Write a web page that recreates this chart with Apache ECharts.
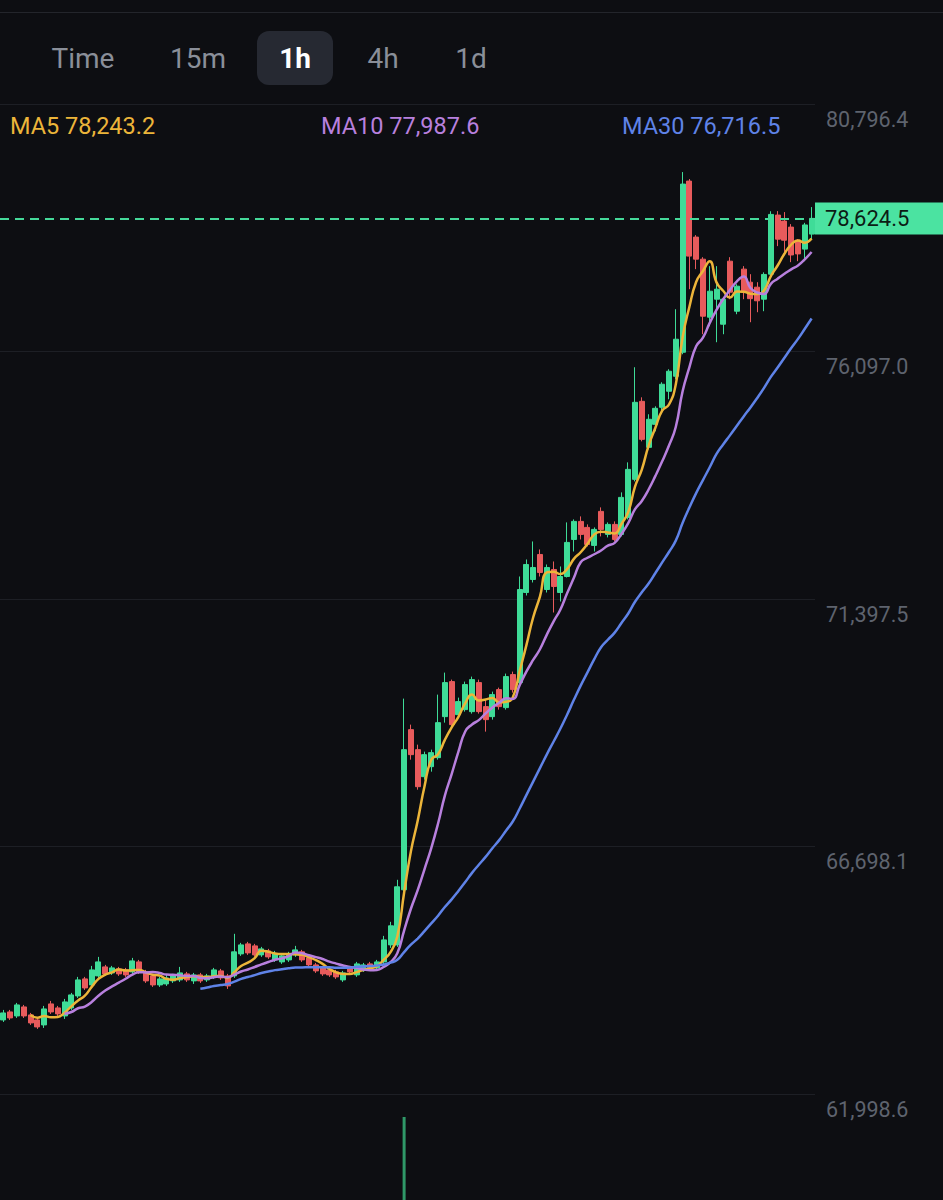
<!DOCTYPE html>
<html><head><meta charset="utf-8">
<script src="https://cdn.jsdelivr.net/npm/echarts@6/dist/echarts.min.js"></script>
<style>html,body{margin:0;padding:0;background:#0d0e12;}#c{width:943px;height:1200px;}</style>
</head><body><div id="c"></div><script>
// Timeframe tabs
const tabs = ['Time', '15m', '1h', '4h', '1d'];
const activeTab = '1h';

// Latest MA readings shown in the legend row
const maLegend = [
  { name: 'MA5', value: '78,243.2' },
  { name: 'MA10', value: '77,987.6' },
  { name: 'MA30', value: '76,716.5' }
];

// Price axis tick values
const yTicks = [61998.6, 66698.1, 71397.5, 76097.0, 80796.4];
const yMin = 61998.6;
const yMax = 80796.4;

// 1h candles: [open, close, low, high]
const candles = [
  [63405, 63538, 63367, 63595],
  [63557, 63443, 63405, 63595],
  [63481, 63690, 63443, 63728],
  [63652, 63481, 63443, 63690],
  [63500, 63348, 63310, 63538],
  [63405, 63272, 63234, 63443],
  [63310, 63614, 63253, 63671],
  [63709, 63557, 63519, 63766],
  [63633, 63519, 63481, 63671],
  [63481, 63747, 63424, 63804],
  [63633, 63880, 63595, 63918],
  [63861, 64165, 63823, 64222],
  [64184, 64013, 63975, 64222],
  [64070, 64355, 64032, 64431],
  [64241, 64507, 64203, 64602],
  [64412, 64279, 64241, 64450],
  [64298, 64393, 64260, 64431],
  [64374, 64279, 64241, 64412],
  [64355, 64260, 64222, 64393],
  [64317, 64526, 64279, 64583],
  [64507, 64317, 64279, 64545],
  [64317, 64146, 64108, 64355],
  [64241, 64070, 64032, 64279],
  [64070, 64184, 64032, 64222],
  [64089, 64203, 64051, 64260],
  [64146, 64241, 64108, 64279],
  [64165, 64298, 64127, 64412],
  [64279, 64165, 64127, 64317],
  [64146, 64260, 64089, 64298],
  [64260, 64146, 64108, 64298],
  [64165, 64241, 64127, 64279],
  [64222, 64355, 64184, 64393],
  [64336, 64203, 64165, 64374],
  [64241, 64051, 63994, 64279],
  [64241, 64698, 64203, 65040],
  [64659, 64830, 64621, 64868],
  [64849, 64678, 64640, 64887],
  [64811, 64640, 64602, 64849],
  [64640, 64754, 64602, 64792],
  [64716, 64602, 64564, 64754],
  [64545, 64659, 64507, 64716],
  [64507, 64621, 64469, 64659],
  [64545, 64640, 64507, 64698],
  [64640, 64735, 64602, 64811],
  [64698, 64545, 64507, 64735],
  [64583, 64450, 64412, 64621],
  [64450, 64336, 64298, 64488],
  [64393, 64279, 64241, 64431],
  [64355, 64260, 64222, 64393],
  [64317, 64222, 64184, 64355],
  [64165, 64298, 64127, 64336],
  [64393, 64317, 64279, 64431],
  [64260, 64469, 64222, 64507],
  [64355, 64450, 64317, 64488],
  [64469, 64393, 64355, 64507],
  [64393, 64507, 64355, 64545],
  [64507, 64925, 64469, 65001],
  [64830, 65192, 64773, 65268],
  [64830, 65933, 64792, 66066],
  [65876, 68537, 65838, 69506],
  [68917, 68442, 68347, 69012],
  [68537, 67834, 67777, 68632],
  [68024, 68442, 67967, 68499],
  [68214, 68480, 68119, 68537],
  [68385, 69050, 68347, 69582],
  [69164, 69810, 69050, 70000],
  [69829, 69012, 68974, 69867],
  [69202, 69449, 69145, 69525],
  [69297, 69772, 69259, 69829],
  [69259, 69867, 69221, 69924],
  [69810, 69259, 69221, 69867],
  [69354, 69107, 68879, 69487],
  [69164, 69582, 69107, 69639],
  [69677, 69354, 69297, 69715],
  [69335, 69924, 69297, 69981],
  [69962, 69677, 69620, 70019],
  [69810, 71578, 69772, 71825],
  [71521, 72053, 71464, 72148],
  [71768, 71996, 71711, 72490],
  [72243, 71901, 71825, 72338],
  [71578, 71996, 71521, 72053],
  [71958, 71635, 71141, 72110],
  [71521, 71825, 71350, 72015],
  [71825, 72472, 71806, 72852],
  [72528, 72871, 72300, 72909],
  [72871, 72624, 72528, 72966],
  [72757, 72434, 72396, 72814],
  [72415, 72719, 72300, 72757],
  [73061, 72719, 72586, 73137],
  [72624, 72814, 72567, 72852],
  [72814, 72528, 72491, 72871],
  [72624, 73327, 72586, 73422],
  [72947, 73859, 72909, 73992],
  [73669, 75132, 73631, 75798],
  [75151, 74429, 74391, 75227],
  [74277, 74810, 74239, 74905],
  [74714, 75018, 74581, 75056],
  [75037, 75475, 74942, 75513],
  [75342, 75722, 75190, 75760],
  [75627, 76330, 75570, 76900],
  [76083, 79276, 76045, 79504],
  [79333, 77908, 77280, 79371],
  [78269, 77850, 77661, 78307],
  [77850, 76767, 76425, 77888],
  [76748, 77242, 76577, 77718],
  [77090, 77280, 76273, 77718],
  [76615, 77090, 76425, 77128],
  [77812, 77223, 77090, 77888],
  [76862, 77337, 76805, 77375],
  [77661, 77223, 77090, 77718],
  [77413, 77100, 76653, 77565],
  [77318, 77060, 76843, 77413],
  [77090, 77560, 76862, 77600],
  [77565, 78700, 77508, 78760],
  [78687, 78230, 78098, 78763],
  [78573, 78210, 77945, 78744],
  [78459, 77930, 77793, 78516],
  [78212, 77950, 77812, 78231],
  [78041, 78500, 77812, 78540],
  [78326, 78624.5, 78231, 78839]
];
const lastPrice = 78624.5;

// Volume pane: only the spike bar reaches into view
const volumes = candles.map(() => null);
volumes[59] = 100;

const categories = candles.map((_, i) => String(i + 1));

function movingAverage(period) {
  return candles.map((_, i) => {
    if (i < period - 1) return '-';
    let s = 0;
    for (let j = i - period + 1; j <= i; j++) s += candles[j][1];
    return +(s / period).toFixed(1);
  });
}

const UP = '#3fdc98', DOWN = '#e85b5c';
const MA_COLORS = ['#ecb53a', '#b880de', '#5f83e8'];
const fmt = v => Number(v).toLocaleString('en-US', { minimumFractionDigits: 1, maximumFractionDigits: 1 });

const chart = echarts.init(document.getElementById('c'), null, { renderer: 'svg', width: 943, height: 1200 });

const tabX = [83, 198, 295, 383, 471];
const graphics = [
  { type: 'rect', shape: { x: 0, y: 12, width: 943, height: 1 }, style: { fill: '#23252b' } },
  { type: 'rect', shape: { x: 257, y: 31, width: 76, height: 54, r: 12 }, style: { fill: '#262932' } }
];
tabs.forEach((t, i) => {
  graphics.push({
    type: 'text', x: tabX[i], y: 58,
    style: {
      text: t, align: 'center', verticalAlign: 'middle',
      fontFamily: 'Roboto', fontSize: 28,
      fontWeight: t === activeTab ? 'bold' : 'normal',
      fill: t === activeTab ? '#ffffff' : '#8a8f99'
    }
  });
});
const legendX = [10, 321, 622];
maLegend.forEach((m, i) => {
  graphics.push({
    type: 'text', x: legendX[i], y: 126,
    style: { text: m.name + ' ' + m.value, verticalAlign: 'middle', fontFamily: 'Roboto', fontSize: 23.5, fill: MA_COLORS[i] }
  });
});

const option = {
  backgroundColor: '#0d0e12',
  animation: false,
  graphic: graphics,
  grid: [
    { left: 0, right: 128, top: 104, height: 990 },
    { left: 0, right: 128, top: 1117, height: 600 }
  ],
  xAxis: [
    { type: 'category', data: categories, gridIndex: 0, boundaryGap: true,
      axisLine: { show: false }, axisTick: { show: false }, axisLabel: { show: false }, splitLine: { show: false } },
    { type: 'category', data: categories, gridIndex: 1, boundaryGap: true,
      axisLine: { show: false }, axisTick: { show: false }, axisLabel: { show: false }, splitLine: { show: false } }
  ],
  yAxis: [
    { type: 'value', gridIndex: 0, position: 'right', min: yMin, max: yMax, scale: true,
      axisLine: { show: false },
      axisTick: { show: false, customValues: yTicks },
      axisLabel: { customValues: yTicks, inside: false, margin: 11, align: 'left', verticalAlign: 'top',
        padding: [4, 0, 0, 0], color: '#5e636e', fontFamily: 'Roboto', fontSize: 21.5, formatter: v => fmt(v) },
      splitLine: { show: true, lineStyle: { color: '#1d1f25', width: 1 } } },
    { type: 'value', gridIndex: 1, min: 0, max: 100, show: false, splitLine: { show: false } }
  ],
  series: [
    {
      type: 'candlestick', name: '1h', data: candles, xAxisIndex: 0, yAxisIndex: 0,
      barWidth: 5.5,
      itemStyle: { color: UP, color0: DOWN, borderColor: UP, borderColor0: DOWN, borderWidth: 1 },
      markLine: {
        silent: true, symbol: ['none', 'none'],
        lineStyle: { color: '#45d99a', type: [9, 6], width: 1.8 },
        label: {
          position: 'end', distance: 0, formatter: () => fmt(lastPrice),
          backgroundColor: '#4be3a1', color: '#0c1c15', fontFamily: 'Roboto', fontSize: 22,
          padding: [5, 10, 5, 10], width: 108, align: 'left'
        },
        data: [{ yAxis: lastPrice }]
      }
    },
    { type: 'line', name: 'MA5', data: movingAverage(5), smooth: true, showSymbol: false, symbol: 'none',
      lineStyle: { color: MA_COLORS[0], width: 2.5 }, xAxisIndex: 0, yAxisIndex: 0 },
    { type: 'line', name: 'MA10', data: movingAverage(10), smooth: true, showSymbol: false, symbol: 'none',
      lineStyle: { color: MA_COLORS[1], width: 2.5 }, xAxisIndex: 0, yAxisIndex: 0 },
    { type: 'line', name: 'MA30', data: movingAverage(30), smooth: true, showSymbol: false, symbol: 'none',
      lineStyle: { color: MA_COLORS[2], width: 2.5 }, xAxisIndex: 0, yAxisIndex: 0 },
    { type: 'bar', name: 'Vol', data: volumes, xAxisIndex: 1, yAxisIndex: 1, barWidth: 3,
      itemStyle: { color: '#2f9868' } }
  ]
};
chart.setOption(option);
</script></body></html>
